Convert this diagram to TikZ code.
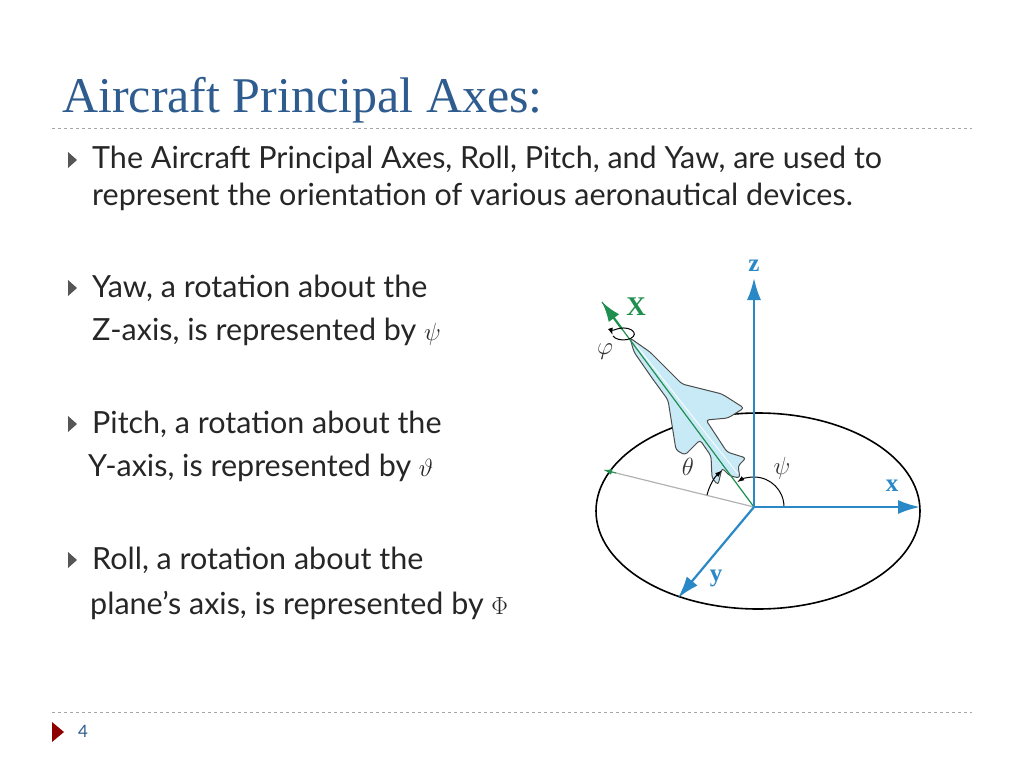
\documentclass[tikz,border=0pt]{standalone}
\usepackage{fontspec}
\setmainfont{Lato}
\newfontfamily\titlefont{Liberation Serif}
\usetikzlibrary{positioning,arrows.meta,calc}
\definecolor{titleblue}{HTML}{2F5C8F}
\definecolor{axisblue}{HTML}{2A88C6}
\definecolor{axisgreen}{HTML}{1E8F4E}
\definecolor{planefill}{HTML}{C8EAF7}
\definecolor{bulletgray}{HTML}{555555}
\tikzset{
  bullet/.style={fill=bulletgray,draw=none},
  bodytext/.style={anchor=west,inner sep=0pt,font=\fontsize{30.5}{34}\selectfont,text=black!85},
  axis/.style={axisblue,line width=2.2pt,-{Latex[length=22pt,width=14pt]}},
  axislabel/.style={axisblue,font=\fontsize{25}{27}\selectfont\bfseries\titlefont},
  anglabel/.style={font=\fontsize{24}{26}\selectfont,text=black!80}
}
\begin{document}
\begin{tikzpicture}[x=1pt,y=-1pt]
  \useasboundingbox (0,0) rectangle (1024,768);
  % title and rules
  \node[anchor=base west,inner sep=0pt,text=titleblue,font=\fontsize{50}{54}\selectfont\titlefont] (title) at (62,112) {Aircraft Principal Axes:};
  \draw[dashed,gray!70,line width=0.9pt] (52,128) -- (972,128);
  \draw[dashed,gray!70,line width=0.9pt] (52,712) -- (972,712);
  % bullets
  \foreach \y in {160,288,424,560}
    \fill[bullet] (68,\y-8) -- (77,\y) -- (68,\y+8) -- cycle;
  \node[bodytext] (intro1) at (92,160) {The Aircraft Principal Axes, Roll, Pitch, and Yaw, are used to};
  \node[bodytext] (intro2) at (92,197) {represent the orientation of various aeronautical devices.};
  \node[bodytext] (yaw1) at (92,288) {Yaw, a rotation about the};
  \node[bodytext] (yaw2) at (92,332) {Z-axis, is represented by $\psi$};
  \node[bodytext] (pitch1) at (92,424) {Pitch, a rotation about the};
  \node[bodytext] (pitch2) at (88,468) {Y-axis, is represented by $\vartheta$};
  \node[bodytext] (roll1) at (92,560) {Roll, a rotation about the};
  \node[bodytext] (roll2) at (90,605) {plane’s axis, is represented by $\Phi$};
  % footer
  \fill[red!55!black] (52,722) -- (64,732) -- (52,742) -- cycle;
  \node[text=titleblue,font=\fontsize{17}{18}\selectfont] (page) at (83,731) {4};
  % diagram
  \draw[black,line width=1.6pt] (758,511) ellipse [x radius=162,y radius=98];
  \coordinate (o) at (754,507);
  \coordinate (ztip) at (754,278);
  \coordinate (xtip) at (920,507);
  \coordinate (ytip) at (678,598);
  \coordinate (Xtip) at (602,302);
  \coordinate (ref) at (604,470);
  \draw[gray!60,line width=1.2pt] (o) -- (ref);
  \draw[axisgreen,-{Latex[length=8pt,width=6pt]},line width=1pt] ($(ref)!0.08!(o)$) -- (ref);
  \draw[axisgreen,line width=2.2pt,-{Latex[length=20pt,width=13pt]}] (622,329) -- (Xtip);
  % plane
  \draw[black!70,fill=planefill,line width=1pt,rounded corners=3pt]
    (630,338) -- (650,352) -- (682,384) -- (722,394) -- (744,408) -- (728,418)
    -- (706,420) -- (727,452) -- (746,458) -- (738,466) -- (740,478)
    -- (730,476) -- (722,468) -- (718,485) -- (712,478) -- (711,456)
    -- (700,440) -- (685,455) -- (676,450) -- (668,400) -- (652,378) -- (634,352) -- cycle;
  \draw[white,line width=0.8pt] (636,345) -- (738,474);
  \draw[axisgreen,line width=1.2pt] (o) -- (Xtip);
  % angles
  \draw[black,line width=1pt,-{Latex[length=7pt,width=5pt]}] (784,507) arc[start angle=0,end angle=-124,radius=30];
  \draw[black,line width=1pt,-{Latex[length=7pt,width=5pt]}] (707,495) arc[start angle=-166,end angle=-131,radius=48];
  \draw[black,line width=1pt,-{Latex[length=7pt,width=5pt]}] (613,336) arc[start angle=160,end angle=-190,x radius=11,y radius=6];
  % axes
  \draw[axis] (o) -- (ztip);
  \draw[axis] (o) -- (xtip);
  \draw[axis] (o) -- (ytip);
  \node[axislabel] (zlab) at (754,266) {z};
  \node[axislabel] (xlab) at (892,486) {x};
  \node[axislabel] (ylab) at (716,578) {y};
  \node[axisgreen,font=\fontsize{27}{29}\selectfont\bfseries\titlefont] (Xlab) at (636,307) {X};
  \node[anglabel] (philab) at (605,352) {$\varphi$};
  \node[anglabel] (thetalab) at (688,467) {$\theta$};
  \node[anglabel] (psilab) at (782,468) {$\psi$};
\end{tikzpicture}
\end{document}
